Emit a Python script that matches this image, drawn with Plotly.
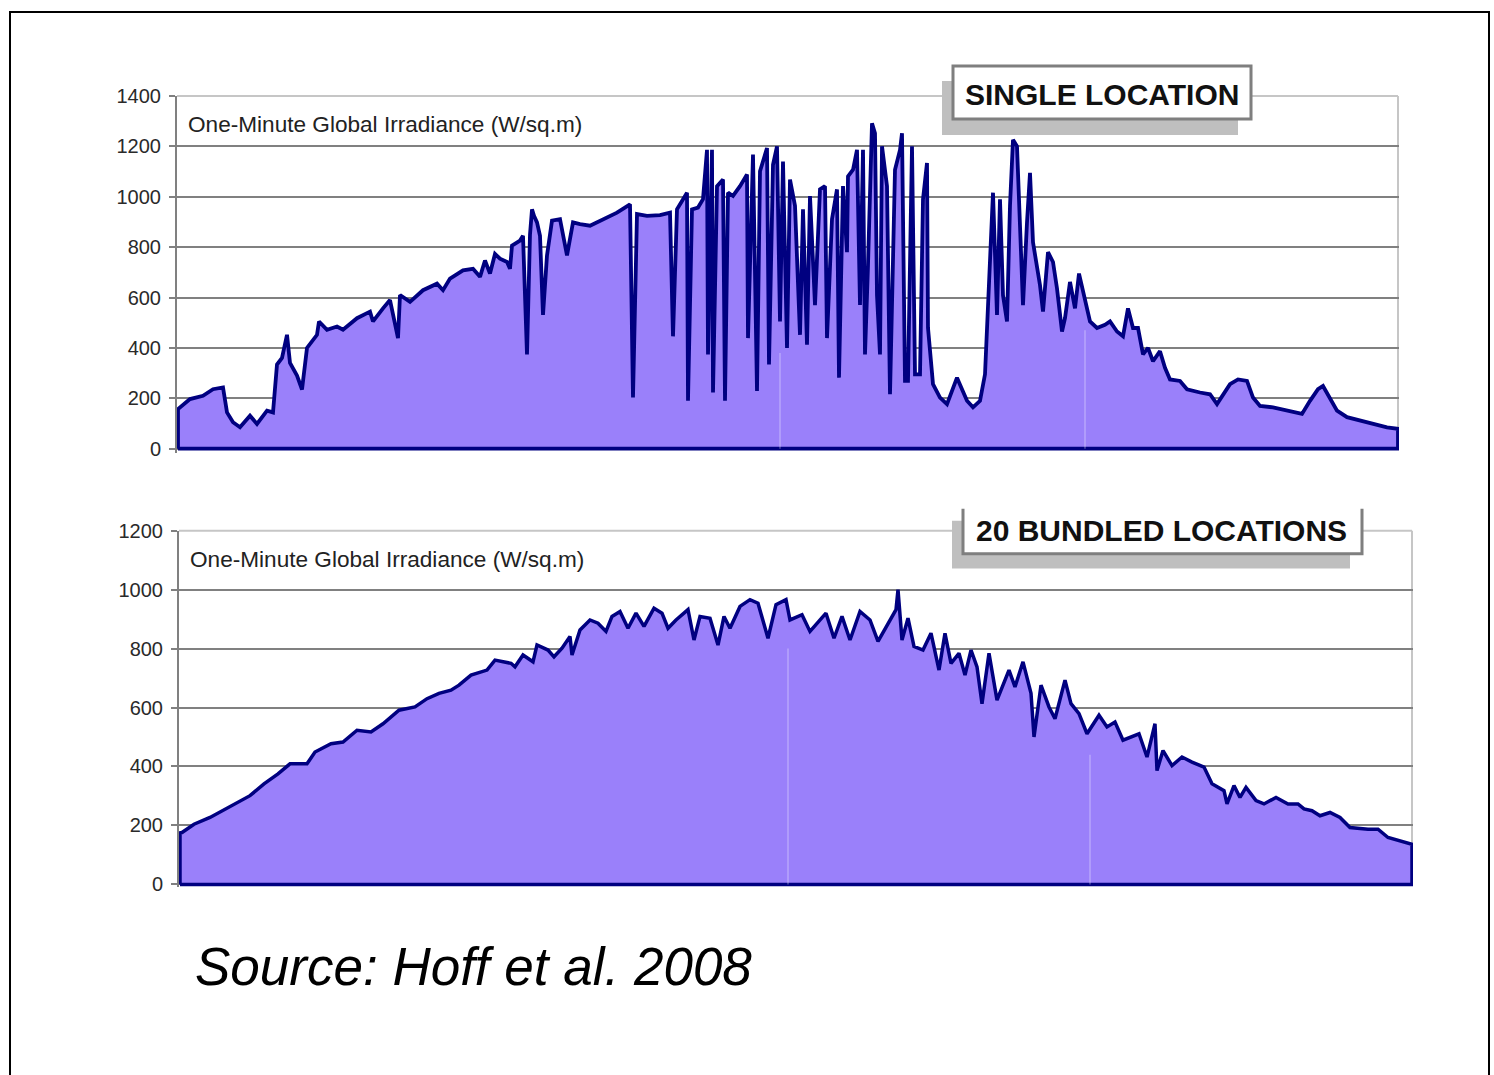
import plotly.graph_objects as go

W, H = 1494, 1075

# ---------------- data ----------------
# Top panel: single location, one-minute global irradiance (W/sq.m)
single_minute = [
    0, 12, 25, 35, 45, 49, 55, 62, 72, 79, 89, 95, 99, 104, 109, 112, 116, 119, 124, 129,
    139, 141, 149, 159, 165, 179, 192, 195, 205, 212, 220, 222, 232, 245, 259, 265, 272, 285, 295, 302,
    307, 312, 317, 322, 329, 332, 334, 342, 345, 349, 352, 354, 356, 359, 362, 365, 369, 374, 382, 389,
    395, 402, 412, 425, 439, 452, 455, 459, 469, 482, 492, 495, 499, 509, 510, 514, 520, 525, 529, 530,
    534, 535, 539, 545, 547, 550, 555, 562, 569, 570, 575, 579, 582, 589, 591, 595, 599, 602, 605, 609,
    612, 617, 622, 625, 629, 632, 637, 642, 647, 649, 654, 659, 661, 665, 669, 670, 675, 679, 682, 685,
    687, 690, 694, 697, 699, 702, 704, 709, 712, 717, 722, 724, 727, 730, 734, 737, 742, 745, 749, 750,
    755, 762, 769, 779, 789, 795, 802, 807, 810, 815, 819, 822, 825, 829, 832, 835, 839, 842, 845, 849,
    852, 855, 859, 862, 865, 870, 875, 879, 884, 887, 892, 897, 901, 907, 912, 919, 927, 932, 939, 945,
    950, 955, 960, 965, 970, 975, 982, 987, 992, 1002, 1009, 1022, 1032, 1039, 1045, 1052, 1060, 1069, 1075, 1082,
    1095, 1112, 1124, 1132, 1140, 1145, 1150, 1159, 1169, 1182, 1195, 1209, 1220,
]
single_irradiance = [
    157, 197, 210, 236, 243, 144, 105, 85, 131, 98, 151, 144, 334, 360, 452, 340, 310, 290, 235, 400,
    452, 505, 472, 485, 472, 518, 544, 505, 557, 590, 439, 610, 583, 629, 655, 629, 675, 708, 714, 682,
    747, 695, 773, 754, 741, 714, 806, 826, 845, 374, 850, 950, 924, 898, 845, 531, 767, 905, 911, 767,
    898, 891, 885, 911, 937, 970, 203, 931, 924, 927, 937, 446, 950, 1016, 190, 950, 957, 990, 1186, 374,
    1186, 223, 1042, 1068, 190, 1016, 1003, 1042, 1088, 439, 1167, 229, 1101, 1193, 334, 1127, 1200, 505, 1140, 400,
    1068, 964, 452, 950, 413, 1003, 570, 1029, 1042, 439, 911, 1029, 282, 1042, 780, 1081, 1107, 1186, 570, 1186,
    374, 728, 1291, 1252, 609, 374, 1200, 1042, 216, 1107, 1186, 1252, 269, 269, 1200, 295, 295, 990, 1134, 479,
    256, 203, 177, 282, 190, 164, 190, 295, 544, 1016, 531, 990, 609, 505, 964, 1226, 1200, 924, 570, 898,
    1095, 819, 714, 649, 544, 780, 741, 636, 465, 518, 662, 557, 695, 596, 505, 479, 492, 505, 465, 446,
    557, 479, 479, 374, 400, 347, 387, 321, 275, 269, 236, 223, 216, 177, 216, 256, 275, 269, 203, 170,
    164, 151, 138, 190, 236, 249, 216, 151, 125, 111, 98, 85, 79,
]

# Bottom panel: 20 bundled locations
bundled_minute = [
    0, 2, 14, 30, 42, 54, 70, 84, 98, 110, 127, 135, 151, 163, 177, 191, 203, 219, 235, 247,
    259, 271, 279, 291, 307, 315, 331, 335, 343, 353, 357, 368, 374, 382, 390, 392, 400, 410, 418, 426,
    432, 440, 448, 456, 464, 474, 482, 488, 496, 508, 514, 520, 530, 538, 544, 550, 560, 570, 578, 588,
    596, 606, 610, 622, 630, 646, 654, 662, 670, 680, 690, 698, 708, 716, 718, 722, 728, 734, 743, 751,
    759, 765, 771, 779, 785, 791, 797, 802, 809, 817, 829, 835, 843, 851, 854, 861, 869, 875, 885, 891,
    899, 907, 919, 927, 935, 943, 959, 967, 975, 977, 983, 992, 1002, 1012, 1024, 1032, 1044, 1047, 1054, 1060,
    1066, 1076, 1084, 1096, 1108, 1118, 1124, 1132, 1140, 1150, 1160, 1170, 1188, 1198, 1208, 1220, 1232,
]
bundled_irradiance = [
    175, 176, 204, 227, 250, 273, 301, 341, 375, 409, 409, 449, 477, 483, 523, 517, 545, 591, 602, 630,
    648, 659, 676, 710, 727, 761, 750, 738, 778, 755, 812, 795, 772, 801, 841, 778, 863, 897, 886, 858,
    909, 926, 869, 920, 875, 937, 920, 869, 897, 932, 829, 909, 903, 812, 909, 869, 943, 966, 954, 835,
    949, 966, 897, 915, 858, 920, 835, 909, 829, 926, 897, 824, 886, 932, 1000, 829, 903, 807, 795, 852,
    727, 852, 750, 784, 710, 795, 738, 613, 784, 625, 727, 670, 755, 648, 500, 676, 602, 562, 693, 613,
    579, 511, 574, 534, 551, 489, 511, 432, 545, 386, 454, 403, 432, 415, 398, 341, 318, 273, 335, 295,
    329, 284, 273, 295, 273, 273, 256, 250, 233, 244, 227, 193, 187, 187, 159, 148, 136,
]

single_ticks = [0, 200, 400, 600, 800, 1000, 1200, 1400]
bundled_ticks = [0, 200, 400, 600, 800, 1000, 1200]

single_title = "SINGLE LOCATION"
bundled_title = "20 BUNDLED LOCATIONS"
panel_label = "One-Minute Global Irradiance (W/sq.m)"
source_text = "Source: Hoff et al. 2008"

# ---------------- styling ----------------
NAVY = "#000080"
FILL = "#9a80fa"
GRID = "#808080"
BORDER = "#c6c6c6"
TICKFONT = dict(family="Liberation Sans, Arial, sans-serif", size=20, color="#2a2a2a")


def px(x):
    return x / W


def py(y):
    # vertical placement calibrated against the rendered page
    yd = max((y - 10) / 0.983, 0.0)
    return 1 - yd / H


fig = go.Figure()

fig.add_trace(go.Scatter(
    x=[0] + single_minute + [single_minute[-1], 0],
    y=[0] + single_irradiance + [0, 0],
    mode="lines", fill="toself", fillcolor=FILL,
    line=dict(color=NAVY, width=3.8),
    xaxis="x", yaxis="y", hoverinfo="skip", showlegend=False,
))
fig.add_trace(go.Scatter(
    x=[0] + bundled_minute + [bundled_minute[-1], 0],
    y=[0] + bundled_irradiance + [0, 0],
    mode="lines", fill="toself", fillcolor=FILL,
    line=dict(color=NAVY, width=3.5),
    xaxis="x2", yaxis="y2", hoverinfo="skip", showlegend=False,
))

yaxis_common = dict(
    showgrid=True, gridcolor=GRID, gridwidth=2,
    showline=True, linecolor=GRID, linewidth=2,
    ticks="outside", ticklen=6, tickwidth=2, tickcolor=GRID,
    tickfont=TICKFONT, zeroline=False, ticklabelstandoff=4,
)

# top: 0 at y=448px, 1400 at y=95px
top_bottom_val = -(452 - 448) / (353 / 1400)
# bottom: 0 at y=884px, 1200 at y=530px
bot_bottom_val = -(887 - 884) / (354 / 1200)

fig.update_layout(
    width=W, height=H,
    margin=dict(l=0, r=0, t=0, b=0, pad=0),
    paper_bgcolor="white", plot_bgcolor="white",
    xaxis=dict(domain=[px(177), px(1399)], range=[-1, 1221], visible=False, anchor="y"),
    yaxis=dict(domain=[py(452), py(95)], range=[top_bottom_val, 1400],
               tickvals=single_ticks, anchor="x", **yaxis_common),
    xaxis2=dict(domain=[px(179), px(1413)], range=[-1, 1233], visible=False, anchor="y2"),
    yaxis2=dict(domain=[py(887), py(530)], range=[bot_bottom_val, 1200],
                tickvals=bundled_ticks, anchor="x2", **yaxis_common),
)

shapes = []
# plot-area borders (light grey, top and right)
for (x0, y0, x1, y1) in [(177, 95, 1398, 95), (1398, 95, 1398, 448),
                         (179, 530, 1412, 530), (1412, 530, 1412, 884)]:
    shapes.append(dict(type="line", xref="paper", yref="paper",
                       x0=px(x0), y0=py(y0), x1=px(x1), y1=py(y1),
                       line=dict(color=BORDER, width=2), layer="between"))

# faint seams in the fills
for (xr, yr, xv, yv) in [("x", "y", 602, 380), ("x", "y", 907, 470),
                         ("x2", "y2", 608, 800), ("x2", "y2", 910, 440)]:
    shapes.append(dict(type="line", xref=xr, yref=yr, x0=xv, x1=xv, y0=0, y1=yv,
                       line=dict(color="rgba(255,255,255,0.3)", width=1.5), layer="above"))

# title boxes with shadows
shapes.append(dict(type="rect", xref="paper", yref="paper",
                   x0=px(942), x1=px(1238), y0=py(134), y1=py(80),
                   fillcolor="#bfbfbf", line=dict(width=0), layer="above"))
shapes.append(dict(type="rect", xref="paper", yref="paper",
                   x0=px(953), x1=px(1251), y0=py(118), y1=py(65),
                   fillcolor="white", line=dict(color="#7f7f7f", width=3), layer="above"))
shapes.append(dict(type="rect", xref="paper", yref="paper",
                   x0=px(952), x1=px(1350), y0=py(568), y1=py(520),
                   fillcolor="#bfbfbf", line=dict(width=0), layer="above"))
shapes.append(dict(type="rect", xref="paper", yref="paper",
                   x0=px(963), x1=px(1362), y0=py(553), y1=py(506),
                   fillcolor="white", line=dict(width=0), layer="above"))
shapes.append(dict(type="path", xref="paper", yref="paper",
                   path=f"M {px(963)} {py(508)} L {px(963)} {py(553)} L {px(1362)} {py(553)} L {px(1362)} {py(508)}",
                   line=dict(color="#7f7f7f", width=3), layer="above"))

# outer frame
shapes.append(dict(type="rect", xref="paper", yref="paper",
                   x0=px(10), x1=px(1489), y0=py(1100), y1=1 - 1 / H,
                   line=dict(color="black", width=2), fillcolor="rgba(0,0,0,0)", layer="above"))

fig.update_layout(shapes=shapes)

annotations = [
    dict(text=f"<b>{single_title}</b>", x=px(1102), y=py(94), xref="paper", yref="paper",
         xanchor="center", yanchor="middle", showarrow=False,
         font=dict(family="Liberation Sans, Arial, sans-serif", size=30, color="#111111")),
    dict(text=f"<b>{bundled_title}</b>", x=px(1161), y=py(530), xref="paper", yref="paper",
         xanchor="center", yanchor="middle", showarrow=False,
         font=dict(family="Liberation Sans, Arial, sans-serif", size=30, color="#111111")),
    dict(text=panel_label, x=px(186), y=py(124), xref="paper", yref="paper",
         xanchor="left", yanchor="middle", showarrow=False,
         font=dict(family="Liberation Sans, Arial, sans-serif", size=22.6, color="#222222")),
    dict(text=panel_label, x=px(188), y=py(559), xref="paper", yref="paper",
         xanchor="left", yanchor="middle", showarrow=False,
         font=dict(family="Liberation Sans, Arial, sans-serif", size=22.6, color="#222222")),
    dict(text=f"<i>{source_text}</i>", x=px(193), y=py(966), xref="paper", yref="paper",
         xanchor="left", yanchor="middle", showarrow=False,
         font=dict(family="Liberation Sans, Arial, sans-serif", size=53, color="#000000")),
]
fig.update_layout(annotations=annotations)

fig.write_html(
    "out.html",
    config={"displayModeBar": False},
    post_script="document.body.style.margin='0';document.body.style.padding='0';document.body.style.overflow='hidden';",
)
